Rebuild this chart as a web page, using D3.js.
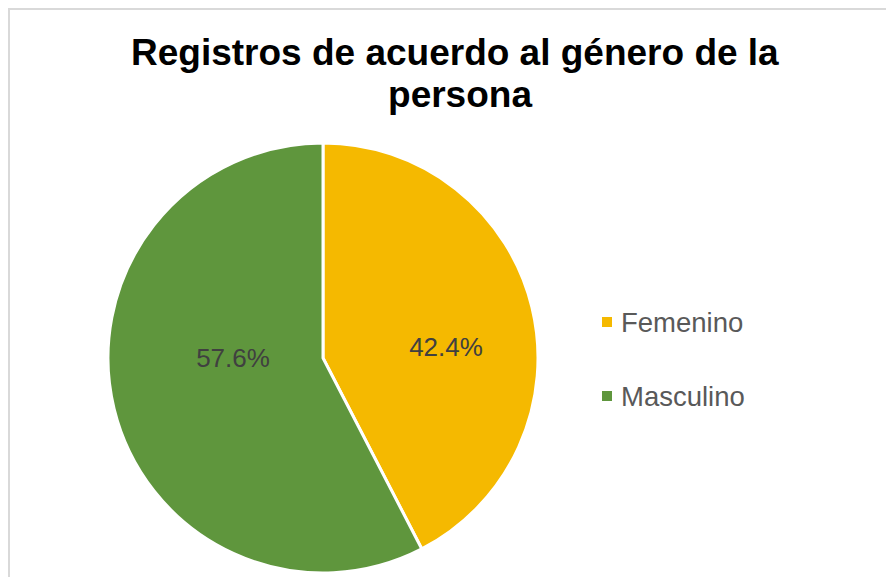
<!DOCTYPE html>
<html>
<head>
<meta charset="utf-8">
<script src="https://cdn.jsdelivr.net/npm/d3@7"></script>
<style>
  html, body { margin: 0; padding: 0; background: #fff; }
  svg { display: block; font-family: Arial, "Liberation Sans", sans-serif; }
  .title text { white-space: pre; }
</style>
</head>
<body>
<div id="pie-chart"></div>
<script>
// Chart data
var categories = ["Femenino", "Masculino"];
var values = [42.4, 57.6];
var colors = ["#F5B900", "#5F963D"];

// Title wraps after "la " (trailing space kept, like the original)
var titleLines = ["Registros de acuerdo al género de la ", "persona"];

// Layout: where the data labels sit, relative to the pie centre
var labelAnchors = [[123, -11], [-90, 0]];

var render = function() {
  var width = 886;
  var height = 577;

  var containerElement = d3.select("#pie-chart");
  containerElement.html("");

  var svg = containerElement
    .append("svg")
    .attr("width", width)
    .attr("height", height);

  // Chart area border
  svg
    .append("rect")
    .attr("x", 9)
    .attr("y", 9)
    .attr("width", width + 20)
    .attr("height", height + 20)
    .attr("fill", "#fff")
    .attr("stroke", "#d9d9d9")
    .attr("stroke-width", 2);

  // Title
  svg
    .append("g")
    .attr("class", "title")
    .selectAll("text")
    .data(titleLines)
    .enter()
    .append("text")
    .attr("x", 460)
    .attr("y", (d, i) => 65 + i * 42)
    .attr("text-anchor", "middle")
    .attr("font-size", 37)
    .attr("font-weight", "bold")
    .attr("fill", "#000")
    .text(d => d);

  var data = categories.map((c, i) => ({ label: c, value: values[i], color: colors[i] }));

  var cx = 323;
  var cy = 358;
  var radius = 215;

  var pie = d3
    .pie()
    .sort(null)
    .value(d => d.value);

  var arc = d3.arc().innerRadius(0).outerRadius(radius);

  var arcs = pie(data);
  var total = d3.sum(values);

  var chartElement = svg
    .append("g")
    .attr("transform", "translate(" + cx + "," + cy + ")");

  chartElement
    .append("g")
    .attr("class", "slices")
    .selectAll("path")
    .data(arcs)
    .enter()
    .append("path")
    .attr("d", arc)
    .attr("fill", d => d.data.color)
    .attr("stroke", "#fff")
    .attr("stroke-width", 3)
    .attr("stroke-linejoin", "round");

  // Percentage labels
  chartElement
    .append("g")
    .attr("class", "value")
    .selectAll("text")
    .data(arcs)
    .enter()
    .append("text")
    .attr("x", (d, i) => labelAnchors[i][0])
    .attr("y", (d, i) => labelAnchors[i][1])
    .attr("dy", 9)
    .attr("text-anchor", "middle")
    .attr("font-size", 26)
    .attr("fill", "#404040")
    .text(d => d3.format(".1f")((d.data.value / total) * 100) + "%");

  // Legend
  var legend = svg
    .append("g")
    .attr("class", "legend")
    .selectAll("g")
    .data(data)
    .enter()
    .append("g")
    .attr("transform", (d, i) => "translate(602," + (332 + i * 74) + ")");

  legend
    .append("rect")
    .attr("x", 0)
    .attr("y", -15)
    .attr("width", 10)
    .attr("height", 10)
    .attr("fill", d => d.color);

  legend
    .append("text")
    .attr("x", 19)
    .attr("y", 0)
    .attr("font-size", 27.5)
    .attr("fill", "#595959")
    .text(d => d.label);
};

window.onload = render;
</script>
</body>
</html>
